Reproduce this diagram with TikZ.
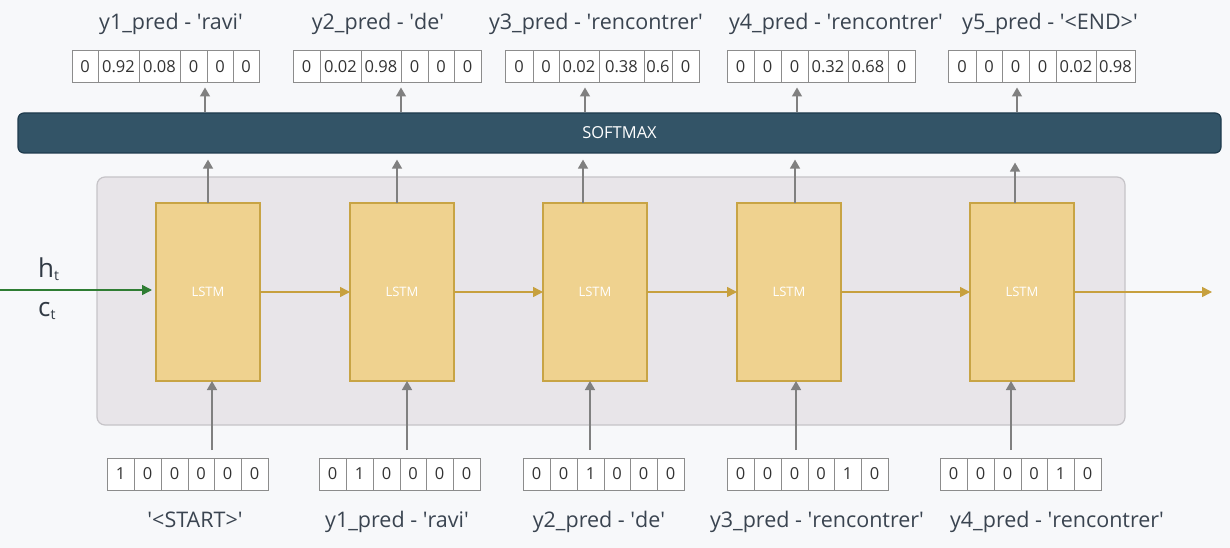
\documentclass[tikz,border=0pt]{standalone}
\usepackage{fontspec}
\setmainfont{Open Sans}
\usetikzlibrary{arrows.meta}
\definecolor{bgc}{HTML}{F7F8FA}
\definecolor{contf}{HTML}{E8E5E9}
\definecolor{contb}{HTML}{C6C4C8}
\definecolor{smf}{HTML}{335467}
\definecolor{smb}{HTML}{1F3B4D}
\definecolor{lstmf}{HTML}{EFD28F}
\definecolor{lstmb}{HTML}{C8A445}
\definecolor{goldc}{HTML}{C7A03E}
\definecolor{arrgray}{HTML}{808080}
\definecolor{greenc}{HTML}{2F7D33}
\definecolor{txtc}{HTML}{3A4450}
\definecolor{cellb}{HTML}{8C8C8C}
\definecolor{celltxt}{HTML}{333333}
\newcommand\q{\textquotesingle}
\newcommand\subt{\raisebox{-3pt}{\fontsize{14}{16}\selectfont t}}
\newcommand\cellrow[4]{%
  \node[inner sep=0pt, outer sep=0pt, minimum size=0pt] (#1-0) at (#2,#3) {};
  \foreach \w/\t [count=\i, remember=\i as \j (initially 0)] in {#4} {
    \node[cell, minimum width=\w pt, anchor=west] (#1-\i) at (#1-\j.east) {\t};
  }%
}
\begin{document}
\begin{tikzpicture}[x=1pt,y=-1pt,
  lbl/.style={font=\fontsize{21.5}{25}\selectfont, text=txtc, inner sep=0pt, anchor=base},
  cell/.style={draw=cellb, fill=white, line width=1pt, minimum height=32pt, inner sep=0pt, outer sep=0pt, font=\fontsize{16.5}{19}\selectfont, text=celltxt},
  lstm/.style={draw=lstmb, fill=lstmf, line width=1.2pt, minimum width=104pt, minimum height=178pt, inner sep=0pt, outer sep=0pt, font=\fontsize{13}{15}\selectfont, text=white},
  grayarrow/.style={draw=arrgray, line width=1.5pt, -{Triangle[length=9pt,width=10pt]}},
  goldarrow/.style={draw=goldc, line width=1.5pt, -{Triangle[length=10pt,width=10pt]}},
  greenarrow/.style={draw=greenc, line width=1.5pt, -{Triangle[length=10pt,width=10pt]}},
  sidelbl/.style={font=\fontsize{26}{30}\selectfont, text=txtc!85!black, inner sep=0pt, anchor=base west}
]
\useasboundingbox (0,0) rectangle (1230,548);
\fill[bgc] (0,0) rectangle (1230,548);

% container and softmax
\node[draw=contb, fill=contf, rounded corners=8pt, line width=1.2pt, minimum width=1028pt, minimum height=248pt, inner sep=0pt] (cont) at (611,301) {};
\node[draw=smb, fill=smf, rounded corners=6pt, line width=1.2pt, minimum width=1203pt, minimum height=40pt, inner sep=0pt, text=white, font=\fontsize{16.5}{19}\selectfont] (sm) at (619.5,133) {SOFTMAX};

% LSTM cells
\node[lstm] (l1) at (208,292) {LSTM};
\node[lstm] (l2) at (402,292) {LSTM};
\node[lstm] (l3) at (595,292) {LSTM};
\node[lstm] (l4) at (789,292) {LSTM};
\node[lstm] (l5) at (1022,292) {LSTM};

% recurrent arrows
\coordinate (gin) at (0,290);
\coordinate (gout) at (1212,292);
\draw[greenarrow, shorten >=4pt] (gin) -- (gin -| l1.west);
\draw[goldarrow] (l1.east) -- (l2.west);
\draw[goldarrow] (l2.east) -- (l3.west);
\draw[goldarrow] (l3.east) -- (l4.west);
\draw[goldarrow] (l4.east) -- (l5.west);
\draw[goldarrow] (l5.east) -- (gout);

\node[sidelbl] (ht) at (38,277) {h\subt};
\node[sidelbl] (ct) at (38,316) {c\subt};

% output vectors
\cellrow{o1}{72}{66.5}{26/0,41/0.92,41/0.08,27/0,26/0,26/0}
\cellrow{o2}{293}{66.5}{27/0,41/0.02,40/0.98,27/0,26/0,27/0}
\cellrow{o3}{505}{66.5}{28/0,26/0,40/0.02,45/0.38,28/0.6,27/0}
\cellrow{o4}{727}{66.5}{27/0,27/0,27/0,40/0.32,40/0.68,27/0}
\cellrow{o5}{948}{66.5}{28/0,26/0,27/0,27/0,40/0.02,39/0.98}

% input vectors
\cellrow{i1}{107}{474}{27/1,27/0,27/0,26/0,27/0,27/0}
\cellrow{i2}{319}{474}{27/0,27/1,27/0,26/0,27/0,27/0}
\cellrow{i3}{523}{474}{27/0,27/0,27/1,26/0,27/0,27/0}
\cellrow{i4}{727}{474}{27/0,27/0,27/0,26/0,27/1,27/0}
\cellrow{i5}{940}{474}{27/0,27/0,27/0,26/0,27/1,27/0}

% arrow x positions
\coordinate (t1) at (205,0); \coordinate (t2) at (401,0); \coordinate (t3) at (585,0); \coordinate (t4) at (797,0); \coordinate (t5) at (1017,0);
\coordinate (m1) at (208,0); \coordinate (m2) at (397,0); \coordinate (m3) at (583,0); \coordinate (m4) at (795,0); \coordinate (m5) at (1015,0);
\coordinate (b1) at (212,0); \coordinate (b2) at (407,0); \coordinate (b3) at (590,0); \coordinate (b4) at (796,0); \coordinate (b5) at (1011,0);

% softmax -> outputs
\draw[grayarrow, shorten >=5pt] (sm.north -| t1) -- (o1-1.south -| t1);
\draw[grayarrow, shorten >=5pt] (sm.north -| t2) -- (o2-1.south -| t2);
\draw[grayarrow, shorten >=5pt] (sm.north -| t3) -- (o3-1.south -| t3);
\draw[grayarrow, shorten >=5pt] (sm.north -| t4) -- (o4-1.south -| t4);
\draw[grayarrow, shorten >=5pt] (sm.north -| t5) -- (o5-1.south -| t5);

% LSTM -> softmax
\draw[grayarrow, shorten >=6pt] (l1.north -| m1) -- (sm.south -| m1);
\draw[grayarrow, shorten >=6pt] (l2.north -| m2) -- (sm.south -| m2);
\draw[grayarrow, shorten >=6pt] (l3.north -| m3) -- (sm.south -| m3);
\draw[grayarrow, shorten >=6pt] (l4.north -| m4) -- (sm.south -| m4);
\draw[grayarrow, shorten >=9pt] (l5.north -| m5) -- (sm.south -| m5);

% inputs -> LSTM
\draw[grayarrow, shorten <=8pt] (i1-1.north -| b1) -- (l1.south -| b1);
\draw[grayarrow, shorten <=8pt] (i2-1.north -| b2) -- (l2.south -| b2);
\draw[grayarrow, shorten <=8pt] (i3-1.north -| b3) -- (l3.south -| b3);
\draw[grayarrow, shorten <=8pt] (i4-1.north -| b4) -- (l4.south -| b4);
\draw[grayarrow, shorten <=8pt] (i5-1.north -| b5) -- (l5.south -| b5);

% top labels
\node[lbl] (y1) at (171,30) {y1\_pred - \q ravi\q};
\node[lbl] (y2) at (378,30) {y2\_pred - \q de\q};
\node[lbl] (y3) at (596,30) {y3\_pred - \q rencontrer\q};
\node[lbl] (y4) at (836,30) {y4\_pred - \q rencontrer\q};
\node[lbl] (y5) at (1050,30) {y5\_pred - \q<END>\q};

% bottom labels
\node[lbl] (x1) at (195,527) {\q<START>\q};
\node[lbl] (x2) at (397,527) {y1\_pred - \q ravi\q};
\node[lbl] (x3) at (599,527) {y2\_pred - \q de\q};
\node[lbl] (x4) at (817,527) {y3\_pred - \q rencontrer\q};
\node[lbl] (x5) at (1057,527) {y4\_pred - \q rencontrer\q};
\end{tikzpicture}
\end{document}
